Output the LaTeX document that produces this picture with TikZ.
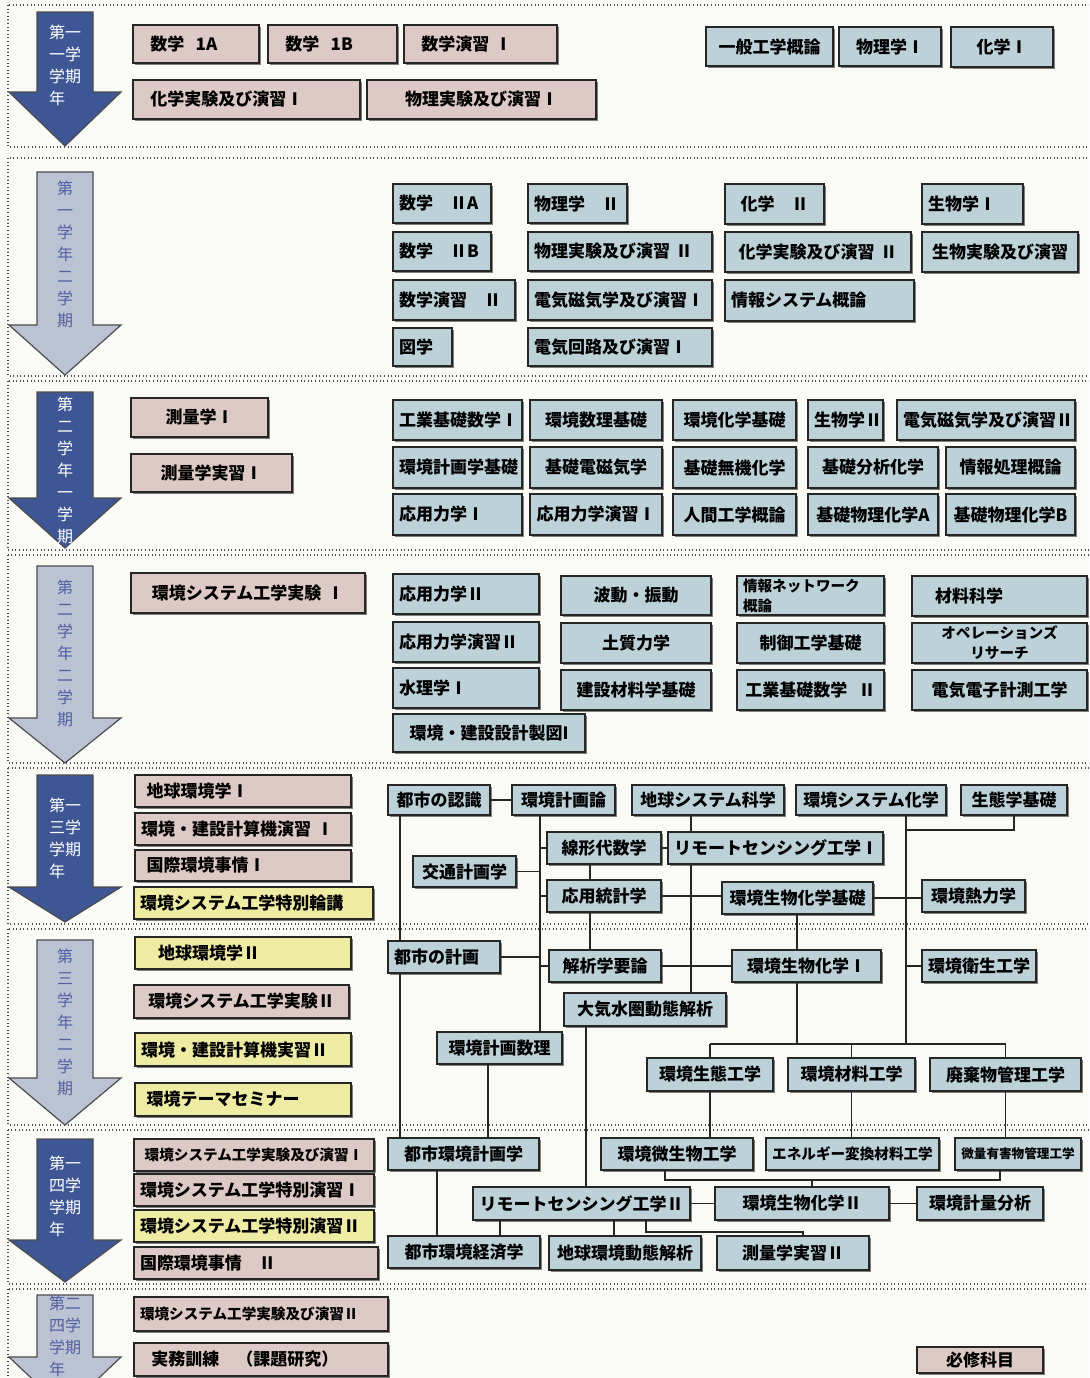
\documentclass[tikz,border=0pt]{standalone}
\usepackage{fontspec}
\setmainfont{Noto Sans CJK JP}
\usetikzlibrary{shadows}
\definecolor{req}{RGB}{221,201,197}
\definecolor{opt}{RGB}{189,209,216}
\definecolor{spc}{RGB}{238,235,162}
\definecolor{semA}{RGB}{62,87,148}
\definecolor{semB}{RGB}{186,194,211}
\definecolor{semtxt}{RGB}{82,96,160}
\definecolor{paper}{RGB}{250,250,247}
\newcommand\nrw{\fontsize{7.3pt}{8pt}\selectfont}
\newcommand\tny{\fontsize{6.3pt}{7pt}\selectfont}
\tikzset{
  course/.style={draw=black!85, line width=1pt, fill=#1, inner xsep=3pt, inner ysep=0pt,
    font=\bfseries\fontsize{8.5pt}{10pt}\selectfont,
    drop shadow={shadow xshift=0.9pt, shadow yshift=-0.9pt, fill=black!70, opacity=0.7}},
  band/.style={black!70, line width=0.6pt, dash pattern=on 0.5pt off 1.3pt},
  link/.style={black!85, line width=0.9pt},
}
\begin{document}
\begin{tikzpicture}[x=0.5pt,y=-0.5pt]
        \useasboundingbox (0,0) rectangle (1089,1378);
        \clip (0,0) rectangle (1089,1378);
        \fill[paper] (0,0) rectangle (1089,1378);
        %% semester bands
        \foreach \ya/\yb in {5/147,158/376,381/550,555/763,768/924,929/1125,1130/1284,1289/1420}
            \draw[band] (8,\ya) rectangle (1100,\yb);
        %% semester arrows
        \foreach \tp/\hb/\tip/\ty/\col/\tc/\txt in {
            12/92/146/25/semA/white/第一\\一学\\学期\\年,
            172/325/375/181/semB/semtxt/第\\一\\学\\年\\二\\学\\期,
            392/498/548/397/semA/white/第\\二\\学\\年\\一\\学\\期,
            566/718/763/580/semB/semtxt/第\\二\\学\\年\\二\\学\\期,
            775/887/922/798/semA/white/第一\\三学\\学期\\年,
            940/1078/1125/949/semB/semtxt/第\\三\\学\\年\\二\\学\\期,
            1139/1240/1282/1156/semA/white/第一\\四学\\学期\\年,
            1295/1357/1410/1296/semB/semtxt/第二\\四学\\学期\\年}{
            \draw[black!70, line width=0.6pt, fill=\col] (37,\tp) -- (93,\tp) -- (93,\hb) -- (121,\hb)
                -- (65,\tip) -- (9,\hb) -- (37,\hb) -- cycle;
            \node[anchor=north, align=left, text=\tc, inner sep=0pt,
                font=\fontsize{8pt}{11pt}\selectfont] (sem\tp) at (65,\ty) {\txt};
        }
        %% required courses
        \foreach \nm/\xa/\ya/\xb/\yb/\al/\txt in {
            m1a/133/25/259/63/left/\ \ 数学\ \ 1A,
            m1b/268/25/397/63/left/\ \ 数学\ \ 1B,
            me1/404/25/557/63/left/\ \ 数学演習\ Ⅰ,
            kj1x/133/80/360/119/left/\ \ 化学実験及び演習Ⅰ,
            bj1/367/80/596/119/center/物理実験及び演習Ⅰ,
            sr1/131/398/268/437/center/測量学Ⅰ,
            sj1/131/454/292/492/center/測量学実習Ⅰ,
            jk1/131/573/365/613/center/環境システム工学実験\ Ⅰ,
            ck1/135/775/351/807/left/\ 地球環境学Ⅰ,
            kke1/135/813/351/845/left/環境・建設計算機演習\ Ⅰ,
            kj1/135/850/351/881/left/\ 国際環境事情Ⅰ,
            jk2/134/985/349/1018/center/環境システム工学実験Ⅱ,
            je1/134/1139/374/1171/center/\nrw 環境システム工学実験及び演習Ⅰ,
            te1/134/1174/374/1206/left/環境システム工学特別演習Ⅰ,
            kj2/134/1247/378/1279/left/国際環境事情\quad Ⅱ,
            je2/134/1297/388/1331/left/\nrw 環境システム工学実験及び演習Ⅱ,
            jmk/134/1343/388/1376/left/\ \ 実務訓練\quad （課題研究）,
            hss/917/1347/1043/1373/center/必修科目}{
            \pgfmathsetmacro\bw{(\xb-\xa)*0.5-6}
            \pgfmathsetmacro\bh{(\yb-\ya)*0.5}
            \node[course=req, align=\al, text width=\bw pt, minimum height=\bh pt] (\nm)
                at ({(\xa+\xb)/2},{(\ya+\yb)/2}) {\txt};
        }
        %% special courses
        \foreach \nm/\xa/\ya/\xb/\yb/\al/\txt in {
            trk/134/887/373/919/left/環境システム工学特別輪講,
            ck2/135/937/351/969/left/\quad 地球環境学Ⅱ,
            kke2/135/1033/351/1066/left/環境・建設計算機実習Ⅱ,
            tse/135/1083/351/1116/left/\ 環境テーマセミナー,
            te2/134/1210/374/1242/left/環境システム工学特別演習Ⅱ}{
            \pgfmathsetmacro\bw{(\xb-\xa)*0.5-6}
            \pgfmathsetmacro\bh{(\yb-\ya)*0.5}
            \node[course=spc, align=\al, text width=\bw pt, minimum height=\bh pt] (\nm)
                at ({(\xa+\xb)/2},{(\ya+\yb)/2}) {\txt};
        }
        %% elective courses
        \foreach \nm/\xa/\ya/\xb/\yb/\al/\txt in {
            ipk/706/27/833/66/center/一般工学概論,
            bt1/839/27/941/66/center/物理学Ⅰ,
            ka1/951/27/1053/67/center/化学Ⅰ,
            m2a/393/184/491/223/left/数学\quad ⅡA,
            m2b/393/232/491/271/left/数学\quad ⅡB,
            me2/393/280/515/320/left/数学演習\quad Ⅱ,
            zug/393/328/452/366/left/図学,
            bt2/528/184/627/223/left/物理学\quad Ⅱ,
            bj2/528/232/712/271/left/物理実験及び演習\ Ⅱ,
            dj1/528/280/712/320/left/電気磁気学及び演習Ⅰ,
            dk1/528/328/712/366/left/電気回路及び演習Ⅰ,
            ka2/725/184/824/224/center/化学\quad Ⅱ,
            kj2b/725/232/911/272/center/化学実験及び演習\ Ⅱ,
            jsg/725/280/914/321/left/情報システム概論,
            sb1/922/184/1023/224/left/生物学Ⅰ,
            sbj/922/232/1078/272/center/生物実験及び演習,
            kk1/393/400/522/440/center/工業基礎数学Ⅰ,
            ksk/530/400/662/440/center/環境数理基礎,
            kkk/673/400/796/440/center/環境化学基礎,
            sb2/808/400/883/440/center/生物学Ⅱ,
            dj2/897/400/1075/440/center/電気磁気学及び演習Ⅱ,
            kkg/393/447/522/488/center/環境計画学基礎,
            kdj/530/447/662/488/center/基礎電磁気学,
            kmk/673/447/796/488/center/基礎無機化学,
            kbn/808/447/938/488/center/基礎分析化学,
            jsh/946/447/1075/488/center/情報処理概論,
            or1/393/494/522/535/left/応用力学Ⅰ,
            oe1/530/494/662/535/center/応用力学演習Ⅰ,
            ngk/673/494/796/535/center/人間工学概論,
            bpa/808/494/938/535/center/基礎物理化学A,
            bpb/946/494/1075/535/center/基礎物理化学B,
            or2/393/574/539/614/left/応用力学Ⅱ,
            oe2/393/622/539/662/left/応用力学演習Ⅱ,
            sui/393/668/539/708/left/水理学Ⅰ,
            sek/393/714/585/752/center/環境・建設設計製図I,
            hdo/561/576/711/615/center/波動・振動,
            dok/561/623/711/663/center/土質力学,
            kzk/561/670/711/710/center/建設材料学基礎,
            jnw/737/576/884/615/left/\nrw 情報ネットワーク\\概論,
            sgk/737/623/884/663/center/制御工学基礎,
            kk2/737/670/884/710/center/工業基礎数学\ \ Ⅱ,
            zkk/912/576/1087/616/left/\quad 材料科学,
            ops/912/623/1087/663/center/\nrw オペレーションズ\\リサーチ,
            ddk/912/670/1087/710/center/電気電子計測工学,
            nin/388/785/490/815/center/都市の認識,
            kkr/512/785/615/815/center/環境計画論,
            chs/632/785/784/815/center/地球システム科学,
            kks/796/785/946/815/center/環境システム化学,
            sei/961/785/1067/815/center/生態学基礎,
            sen/547/832/661/864/center/線形代数学,
            rs1/668/832/883/864/center/リモートセンシング工学Ⅰ,
            kot/413/856/516/887/center/交通計画学,
            oto/547/880/661/912/center/応用統計学,
            kbk/722/882/873/914/center/環境生物化学基礎,
            ner/922/880/1025/912/center/環境熱力学,
            tkk/388/941/500/973/left/都市の計画,
            kai/549/950/661/982/center/解析学要論,
            kb1/732/950/881/982/center/環境生物化学Ⅰ,
            eis/922/950/1036/982/center/環境衛生工学,
            tai/564/993/726/1026/center/大気水圏動態解析,
            ksr/437/1032/562/1064/center/環境計画数理,
            sta/647/1058/773/1091/center/環境生態工学,
            zai/788/1058/915/1091/center/環境材料工学,
            hai/930/1058/1081/1091/center/廃棄物管理工学,
            tkg/388/1138/539/1170/center/都市環境計画学,
            bis/601/1138/753/1170/center/環境微生物工学,
            ene/766/1138/939/1170/center/\nrw エネルギー変換材料工学,
            bir/955/1138/1081/1170/center/\tny 微量有害物管理工学,
            rs2/473/1187/690/1220/center/リモートセンシング工学Ⅱ,
            kb2/715/1187/889/1220/center/環境生物化学Ⅱ,
            kry/917/1187/1043/1220/center/環境計量分析,
            tke/388/1236/540/1268/center/都市環境経済学,
            cdk/549/1236/701/1270/center/地球環境動態解析,
            srj/717/1236/869/1270/center/測量学実習Ⅱ}{
            \pgfmathsetmacro\bw{(\xb-\xa)*0.5-6}
            \pgfmathsetmacro\bh{(\yb-\ya)*0.5}
            \node[course=opt, align=\al, text width=\bw pt, minimum height=\bh pt] (\nm)
                at ({(\xa+\xb)/2},{(\ya+\yb)/2}) {\txt};
        }
        %% trunk lines
        \coordinate (t0) at (400,0);
        \coordinate (t1) at (540,0);
        \coordinate (t2) at (590,0);
        \coordinate (t3) at (691,0);
        \coordinate (t4) at (797,0);
        \coordinate (t5) at (906,0);
        \coordinate (t6) at (488,0);
        \coordinate (t7) at (586,0);
        \coordinate (t8) at (614,0);
        \coordinate (t9) at (500,0);
        \coordinate (t10) at (437,0);
        \coordinate (bus) at (0,1044);
        \coordinate (j1) at (906,830);
        \coordinate (b2) at (665,1180);
        \coordinate (b3) at (1000,1180);
        \coordinate (b4) at (812,1180);
        \coordinate (b5) at (646,1232);
        \coordinate (b6) at (803,1232);
        %% links, third year
        \draw[link] (nin.east) -- (kkr.west);
        \draw[link] (nin.south -| t0) -- (tkk.north -| t0) (tkk.south -| t0) -- (tkg.north -| t0);
        \draw[link] (kkr.south -| t1) -- (ksr.north -| t1);
        \draw[link] (sen.west) -- (sen.west -| t1) (kot.east) -- (kot.east -| t1)
            (oto.west) -- (oto.west -| t1) (tkk.east) -- (tkk.east -| t1) (kai.west) -- (kai.west -| t1);
        \draw[link] (sen.south -| t2) -- (oto.north -| t2) (oto.south -| t2) -- (kai.north -| t2);
        \draw[link] (sen.east) -- (rs1.west);
        \draw[link] (chs.south -| t3) -- (rs1.north -| t3) (rs1.south -| t3) -- (tai.north -| t3);
        \draw[link] (oto.east) -- (oto.east -| kbk.west);
        \draw[link] (kai.east) -- (kai.east -| kb1.west);
        \draw[link] (kbk.south -| t4) -- (kb1.north -| t4) (kb1.south -| t4) -- (t4 |- bus);
        \draw[link] (sta.north |- bus) -- (hai.north |- bus);
        \draw[link] (sta.north) -- (sta.north |- bus) (zai.north) -- (zai.north |- bus)
            (hai.north) -- (hai.north |- bus);
        \draw[link] (kks.south -| t5) -- (t5 |- bus);
        \draw[link] (sei.south) |- (j1);
        \draw[link] (kbk.east) -- (kbk.east -| ner.west);
        \draw[link] (eis.west -| t5) -- (eis.west);
        %% links, fourth year
        \draw[link] (ksr.south -| t6) -- (tkg.north -| t6);
        \draw[link] (tai.south -| t7) -- (rs2.north -| t7);
        \draw[link] (sta.south) -- (sta.south |- bis.north);
        \draw[link] (zai.south) -- (zai.south |- ene.north);
        \draw[link] (hai.south) -- (hai.south |- bir.north);
        \draw[link] (bis.south -| b2) -- (b2) -- (b3) -- (bir.south -| b3);
        \draw[link] (b4) -- (kb2.north -| b4);
        \draw[link] (rs2.east) -- (kb2.west) (kb2.east) -- (kry.west);
        \draw[link] (rs2.south -| t8) -- (cdk.north -| t8);
        \draw[link] (rs2.south -| b5) -- (b5) -- (b6) -- (srj.north -| b6);
        \draw[link] (rs2.south -| t9) -- (tke.north -| t9);
        \draw[link] (tkg.south -| t10) -- (tke.north -| t10);
\end{tikzpicture}
\end{document}
